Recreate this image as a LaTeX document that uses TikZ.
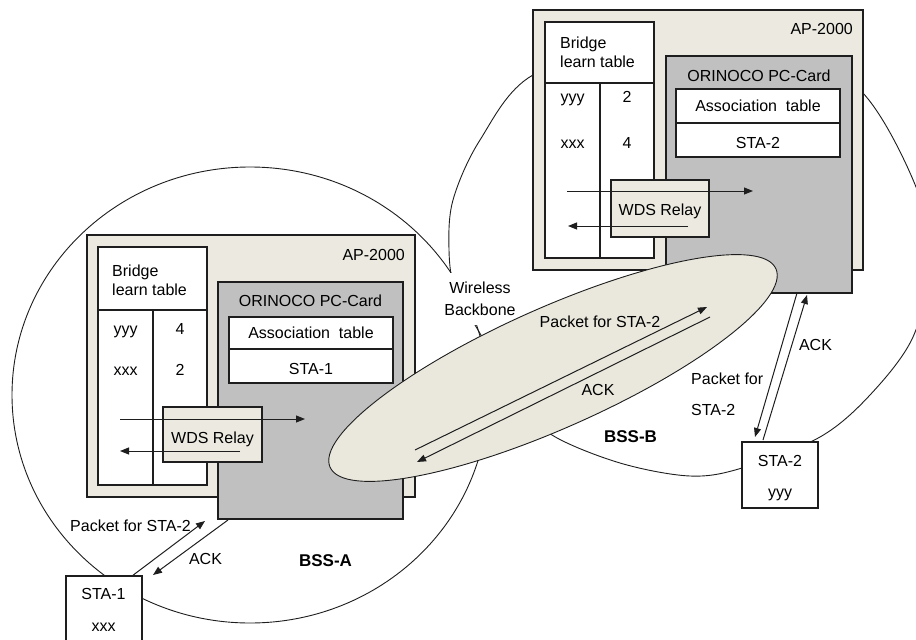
\documentclass[tikz,border=0pt]{standalone}
\usepackage{fontspec}
\setmainfont{Liberation Sans}
\usetikzlibrary{arrows.meta,shapes.geometric}
\definecolor{cream}{HTML}{ECEAE0}
\definecolor{ellfill}{HTML}{EAE8DD}
\definecolor{cardgray}{HTML}{C0C0C0}
\definecolor{linec}{HTML}{1E1E1E}
\begin{document}
\begin{tikzpicture}[x=1pt,y=-1pt,
  every node/.style={font=\fontsize{16}{19}\selectfont, text=black},
  lbl/.style={inner sep=0pt},
  bss/.style={inner sep=0pt, font=\fontsize{17}{20}\selectfont\bfseries},
  box/.style={draw=linec, line width=1.3pt, rectangle, inner sep=0pt, outer sep=0pt, anchor=north west},
  zone/.style={draw=linec, line width=0.9pt},
  grid/.style={draw=linec, line width=1.3pt},
  tip/.style={draw=linec, line width=1pt, -{Triangle[length=9pt,width=7pt]}},
]
\useasboundingbox (0,0) rectangle (916,640);
\clip (0,0) rectangle (916,640);

% BSS zones
\node[zone, ellipse, inner sep=0pt, minimum width=476pt, minimum height=456pt] (bssA) at (250,395) {};
\draw[zone] plot[smooth cycle, tension=0.55] coordinates {
  (533,75) (480,140) (453,200) (449,250) (455,290) (478,330) (520,400)
  (552,435) (620,463) (690,476) (742,468) (820,437) (870,395) (913,337)
  (930,262) (916,187) (862,92) (780,45) (650,45)};

\node[lbl, fill=white, inner xsep=5pt, inner ysep=9pt, align=center, anchor=north,
      font=\fontsize{16}{22}\selectfont] (wbl) at (480,273) {Wireless\\Backbone};

% ---------- AP-2000 left
\node[box, fill=cream, minimum width=328pt, minimum height=262pt] (apA) at (87,235) {};
\node[box, fill=white, minimum width=109pt, minimum height=238pt] (tabA) at (98,247) {};
\draw[grid] (98,310) -- (207,310);
\draw[grid] (153,310) -- (153,485);
\node[box, fill=cardgray, minimum width=185pt, minimum height=237pt] (cardA) at (218,282) {};
\node[box, fill=white, minimum width=164pt, minimum height=66pt] (assocA) at (229,317) {};
\draw[grid] (229,349) -- (393,349);
\node[box, fill=cream, minimum width=99pt, minimum height=55pt] (wdsA) at (163,407) {};
\node[lbl, anchor=east] (apAt) at (405,255) {AP-2000};
\node[lbl, anchor=north west, align=left] (brA) at (112,265) {Bridge\\learn table};
\node[lbl, anchor=base] (yA) at (125.5,334) {yyy};
\node[lbl, anchor=base] (yAn) at (180,334) {4};
\node[lbl, anchor=base] (xA) at (125.5,375) {xxx};
\node[lbl, anchor=base] (xAn) at (180,375) {2};
\node[lbl] (orA) at (310.5,300.5) {ORINOCO PC-Card};
\node[lbl] (asA) at (311,333) {Association~ table};
\node[lbl] (s1A) at (311,369) {STA-1};
\node[lbl, anchor=base] (wdA) at (212.5,443) {WDS Relay};
\coordinate (a1s) at (120,419); \coordinate (a1e) at (305,419);
\coordinate (a2s) at (240,451); \coordinate (a2e) at (120,451);
\draw[tip] (a1s) -- (a1e);
\draw[tip] (a2s) -- (a2e);

% ---------- AP-2000 right
\node[box, fill=cream, minimum width=330pt, minimum height=260pt] (apB) at (533,10) {};
\node[box, fill=white, minimum width=109pt, minimum height=236pt] (tabB) at (545,22) {};
\draw[grid] (545,83) -- (654,83);
\draw[grid] (600,83) -- (600,258);
\node[box, fill=cardgray, minimum width=186pt, minimum height=237pt] (cardB) at (666,56) {};
\node[box, fill=white, minimum width=164pt, minimum height=68pt] (assocB) at (676,89) {};
\draw[grid] (676,123) -- (840,123);
\node[box, fill=cream, minimum width=98pt, minimum height=57pt] (wdsB) at (611,180) {};
\node[lbl, anchor=east] (apBt) at (853,29) {AP-2000};
\node[lbl, anchor=north west, align=left] (brB) at (560,37) {Bridge\\learn table};
\node[lbl, anchor=base] (yB) at (572.5,102) {yyy};
\node[lbl, anchor=base] (yBn) at (627,102) {2};
\node[lbl, anchor=base] (xB) at (572.5,148) {xxx};
\node[lbl, anchor=base] (xBn) at (627,148) {4};
\node[lbl] (orB) at (759,76) {ORINOCO PC-Card};
\node[lbl] (asB) at (758,106) {Association~ table};
\node[lbl] (s2B) at (758,142.5) {STA-2};
\node[lbl, anchor=base] (wdB) at (660,215) {WDS Relay};
\coordinate (b1s) at (567,191); \coordinate (b1e) at (753,191);
\coordinate (b2s) at (688,226); \coordinate (b2e) at (568,226);
\draw[tip] (b1s) -- (b1e);
\draw[tip] (b2s) -- (b2e);

% ---------- wireless backbone
\node[ellipse, draw=linec, line width=0.9pt, fill=ellfill, inner sep=0pt,
      minimum width=488pt, minimum height=120pt, rotate=24] (wb) at (553,368) {};
\coordinate (w1s) at (415,450); \coordinate (w1e) at (707,307);
\coordinate (w2s) at (710,317); \coordinate (w2e) at (417,462);
\draw[tip] (w1s) -- (w1e);
\draw[tip] (w2s) -- (w2e);
\node[lbl] (wpk) at (600,321.5) {Packet for STA-2};
\node[lbl] (wack) at (598,389.5) {ACK};

% ---------- stations
\node[box, fill=white, minimum width=76pt, minimum height=80pt] (sta1) at (66,576) {};
\node[lbl] (sta1t) at (103.5,594) {STA-1};
\node[lbl, anchor=base] (sta1m) at (103.5,631) {xxx};
\node[box, fill=white, minimum width=76pt, minimum height=66pt] (sta2) at (742,442) {};
\node[lbl] (sta2t) at (780,461) {STA-2};
\node[lbl, anchor=base] (sta2m) at (780,497) {yyy};

\coordinate (p1s) at (132,576); \coordinate (p1e) at (205,521);
\coordinate (k1s) at (228,520); \coordinate (k1e) at (153,575);
\draw[tip] (p1s) -- (p1e);
\draw[tip] (k1s) -- (k1e);
\coordinate (p2s) at (797,293); \coordinate (p2e) at (755,437);
\coordinate (k2s) at (763,440); \coordinate (k2e) at (807,295);
\draw[tip] (p2s) -- (p2e);
\draw[tip] (k2s) -- (k2e);

\node[lbl] (lpk) at (130.5,526) {Packet for STA-2};
\node[lbl] (lack) at (205.5,559) {ACK};
\node[lbl] (rack) at (815.5,345) {ACK};
\node[lbl, anchor=north west, align=left, font=\fontsize{16}{31}\selectfont] (rpk) at (691,373) {Packet for\\STA-2};
\node[bss] (bssAt) at (325.5,561) {BSS-A};
\node[bss] (bssBt) at (630.5,436.5) {BSS-B};
\end{tikzpicture}
\end{document}
